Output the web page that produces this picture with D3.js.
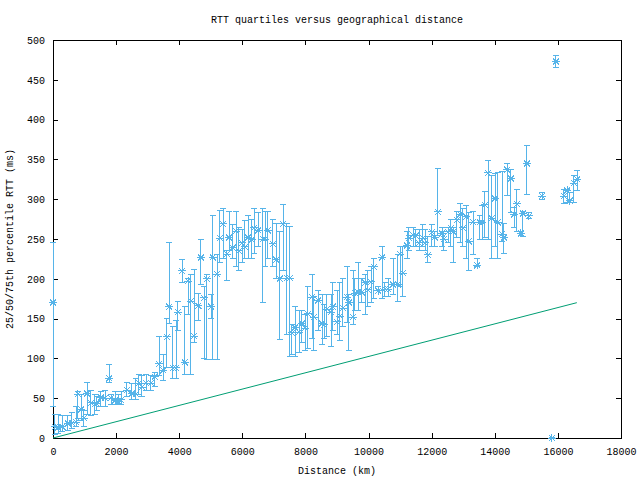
<!DOCTYPE html>
<html><head><meta charset="utf-8">
<script src="https://cdn.jsdelivr.net/npm/d3@7"></script>
<style>body{margin:0;background:#fff}svg{display:block}text{font-family:"Liberation Mono","DejaVu Sans Mono",monospace;font-size:10px;fill:#000}</style>
</head><body>
<svg id="c" width="640" height="480"></svg>
<script>
const title = "RTT quartiles versus geographical distance";
const xLabel = "Distance (km)";
const yLabel = "25/50/75th percentile RTT (ms)";
const xTicks = [0,2000,4000,6000,8000,10000,12000,14000,16000,18000];
const yTicks = [0,50,100,150,200,250,300,350,400,450,500];

const dist = [0,60,160,290,475,600,730,790,890,980,1080,1200,1330,1390,1520,1650,1775,1840,1965,2060,2155,2345,2500,2630,2725,2820,2950,3100,3230,
3360,3490,3610,3680,3800,3900,3960,4090,4180,4280,4370,4470,4600,4690,4790,4880,5010,5070,5200,5290,5390,5510,5580,5700,5800,5890,5990,6080,6180,6300,6370,6500,6650,6720,6810,6970,7070,
7190,7290,7415,7510,7570,7670,7800,7890,7990,8080,8210,8270,8400,8525,8590,8680,8810,8870,9000,9095,9190,9320,9380,9510,9570,9670,9790,9890,9980,10080,10170,10300,10430,10520,10620,10775,10930,11000,11090,11220,11280,11410,11500,11600,11725,11790,11880,12010,12100,12200,12330,12390,12520,12610,12680,12800,12900,12990,13090,13180,13310,13440,13530,13600,13690,13790,13910,14010,14100,14230,14290,14390,14510,14610,14700,14830,14890,15020,15080,15500,15810,15940,16190,16290,16380,16510,16610];
const q25 = [40,5,6,8,10,12,14,25,22,15,30,28,30,35,40,40,70,42,42,42,42,52,48,48,55,52,60,60,65,
78,72,88,144,75,75,135,195,80,155,80,120,148,193,100,99,150,99,99,220,225,198,235,225,215,210,220,225,225,225,232,240,170,215,225,215,200,
124,211,130,103,105,102,108,120,110,112,125,110,135,117,125,128,115,135,130,122,140,145,110,143,160,160,170,155,165,170,175,185,175,178,178,180,172,190,178,225,235,240,240,235,240,235,220,240,240,255,240,235,245,240,220,252,245,240,225,210,230,215,250,250,252,250,225,240,225,247,232,305,283,265,260,255,253,306,276,300,0,466,294,296,296,296,311];
const q50 = [170,14,13,14,18,19,20,55,36,25,56,44,43,43,51,50,75,50,47,46,48,60,56,55,69,64,69,69,77,
93,85,127,165,88,88,158,210,95,197,172,128,166,227,176,200,165,227,206,251,269,231,252,239,260,235,245,240,252,249,264,261,250,250,261,244,224,
200,269,201,201,132,139,133,144,138,156,177,152,173,144,142,162,158,165,146,153,163,177,170,152,182,183,183,195,186,196,215,185,227,187,187,193,193,231,207,242,251,255,254,245,251,245,230,259,252,284,257,250,259,264,259,274,281,264,278,247,271,217,271,271,293,333,276,301,271,256,252,337,326,281,294,257,282,345,279,304,0,473,304,311,298,320,325];
const q75 = [245,30,30,28,28,32,40,58,55,35,70,60,55,52,58,60,92,55,58,55,58,70,68,75,80,78,80,78,82,
128,105,150,245,140,148,171,224,165,200,205,212,181,249,190,205,180,280,230,286,288,235,285,268,285,265,262,273,280,275,288,283,288,285,285,275,270,
260,293,270,266,142,165,160,160,155,190,205,178,185,180,168,180,180,195,185,195,200,215,180,210,200,220,200,205,210,215,225,190,240,195,200,225,230,240,240,260,265,265,262,262,268,262,253,268,260,338,265,260,265,275,265,285,295,288,292,283,285,225,280,292,310,348,330,332,333,335,270,345,337,290,312,260,285,368,283,309,1,480,312,312,309,330,336];

const lineDist = [0,16600];
const lineRtt = [0,170];

const svg = d3.select("#c");
const m = {l:53, r:621, t:40, b:438};
const x = d3.scaleLinear().domain([0,18000]).range([m.l,m.r]);
const y = d3.scaleLinear().domain([0,500]).range([m.b,m.t]);
const blue = "#56b4e9", green = "#009e73";

svg.append("text").attr("x",337).attr("y",23).attr("text-anchor","middle").text(title);

const ax = svg.append("g").attr("transform",`translate(0,${m.b})`)
  .call(d3.axisBottom(x).tickValues(xTicks).tickSize(-5).tickPadding(10).tickFormat(d3.format("d")));
const axT = svg.append("g").attr("transform",`translate(0,${m.t})`)
  .call(d3.axisTop(x).tickValues(xTicks).tickSize(-5).tickFormat(""));
const ay = svg.append("g").attr("transform",`translate(${m.l},0)`)
  .call(d3.axisLeft(y).tickValues(yTicks).tickSize(-5).tickPadding(8));
const ayR = svg.append("g").attr("transform",`translate(${m.r},0)`)
  .call(d3.axisRight(y).tickValues(yTicks).tickSize(-5).tickFormat(""));
[ax,axT,ay,ayR].forEach(g=>{g.select(".domain").remove();g.selectAll("line").attr("stroke","#000").attr("shape-rendering","crispEdges");g.selectAll("text").attr("font-family",null).attr("font-size",null);});
ax.selectAll("text").attr("dy","0.71em");

svg.append("rect").attr("x",m.l+0.5).attr("y",m.t+0.5).attr("width",m.r-m.l).attr("height",m.b-m.t)
  .attr("fill","none").attr("stroke","#000").attr("shape-rendering","crispEdges");

svg.append("text").attr("x",337).attr("y",474).attr("text-anchor","middle").text(xLabel);
svg.append("text").attr("transform","translate(13,239) rotate(-90)").attr("text-anchor","middle").text(yLabel);

const data = dist.map((d,i)=>({d, lo:q25[i], med:q50[i], hi:q75[i]}));
const g = svg.append("g").attr("shape-rendering","crispEdges");
const bars = g.selectAll("g.b").data(data).join("g").attr("stroke",blue).attr("stroke-width",1).attr("fill","none");
bars.append("line").attr("x1",d=>x(d.d)).attr("x2",d=>x(d.d)).attr("y1",d=>y(d.lo)).attr("y2",d=>y(d.hi));
bars.append("line").attr("x1",d=>x(d.d)-3).attr("x2",d=>x(d.d)+3).attr("y1",d=>y(d.lo)).attr("y2",d=>y(d.lo));
bars.append("line").attr("x1",d=>x(d.d)-3).attr("x2",d=>x(d.d)+3).attr("y1",d=>y(d.hi)).attr("y2",d=>y(d.hi));
const star = "M-4,0H4M0,-4V4M-3,-3L3,3M-3,3L3,-3";
bars.append("path").attr("d",star).attr("transform",d=>`translate(${x(d.d)},${y(d.med)})`);

svg.append("path").datum(lineDist.map((d,i)=>[d,lineRtt[i]]))
  .attr("d",d3.line().x(d=>x(d[0])).y(d=>y(d[1])))
  .attr("stroke",green).attr("stroke-width",1).attr("fill","none");
</script>
</body></html>
